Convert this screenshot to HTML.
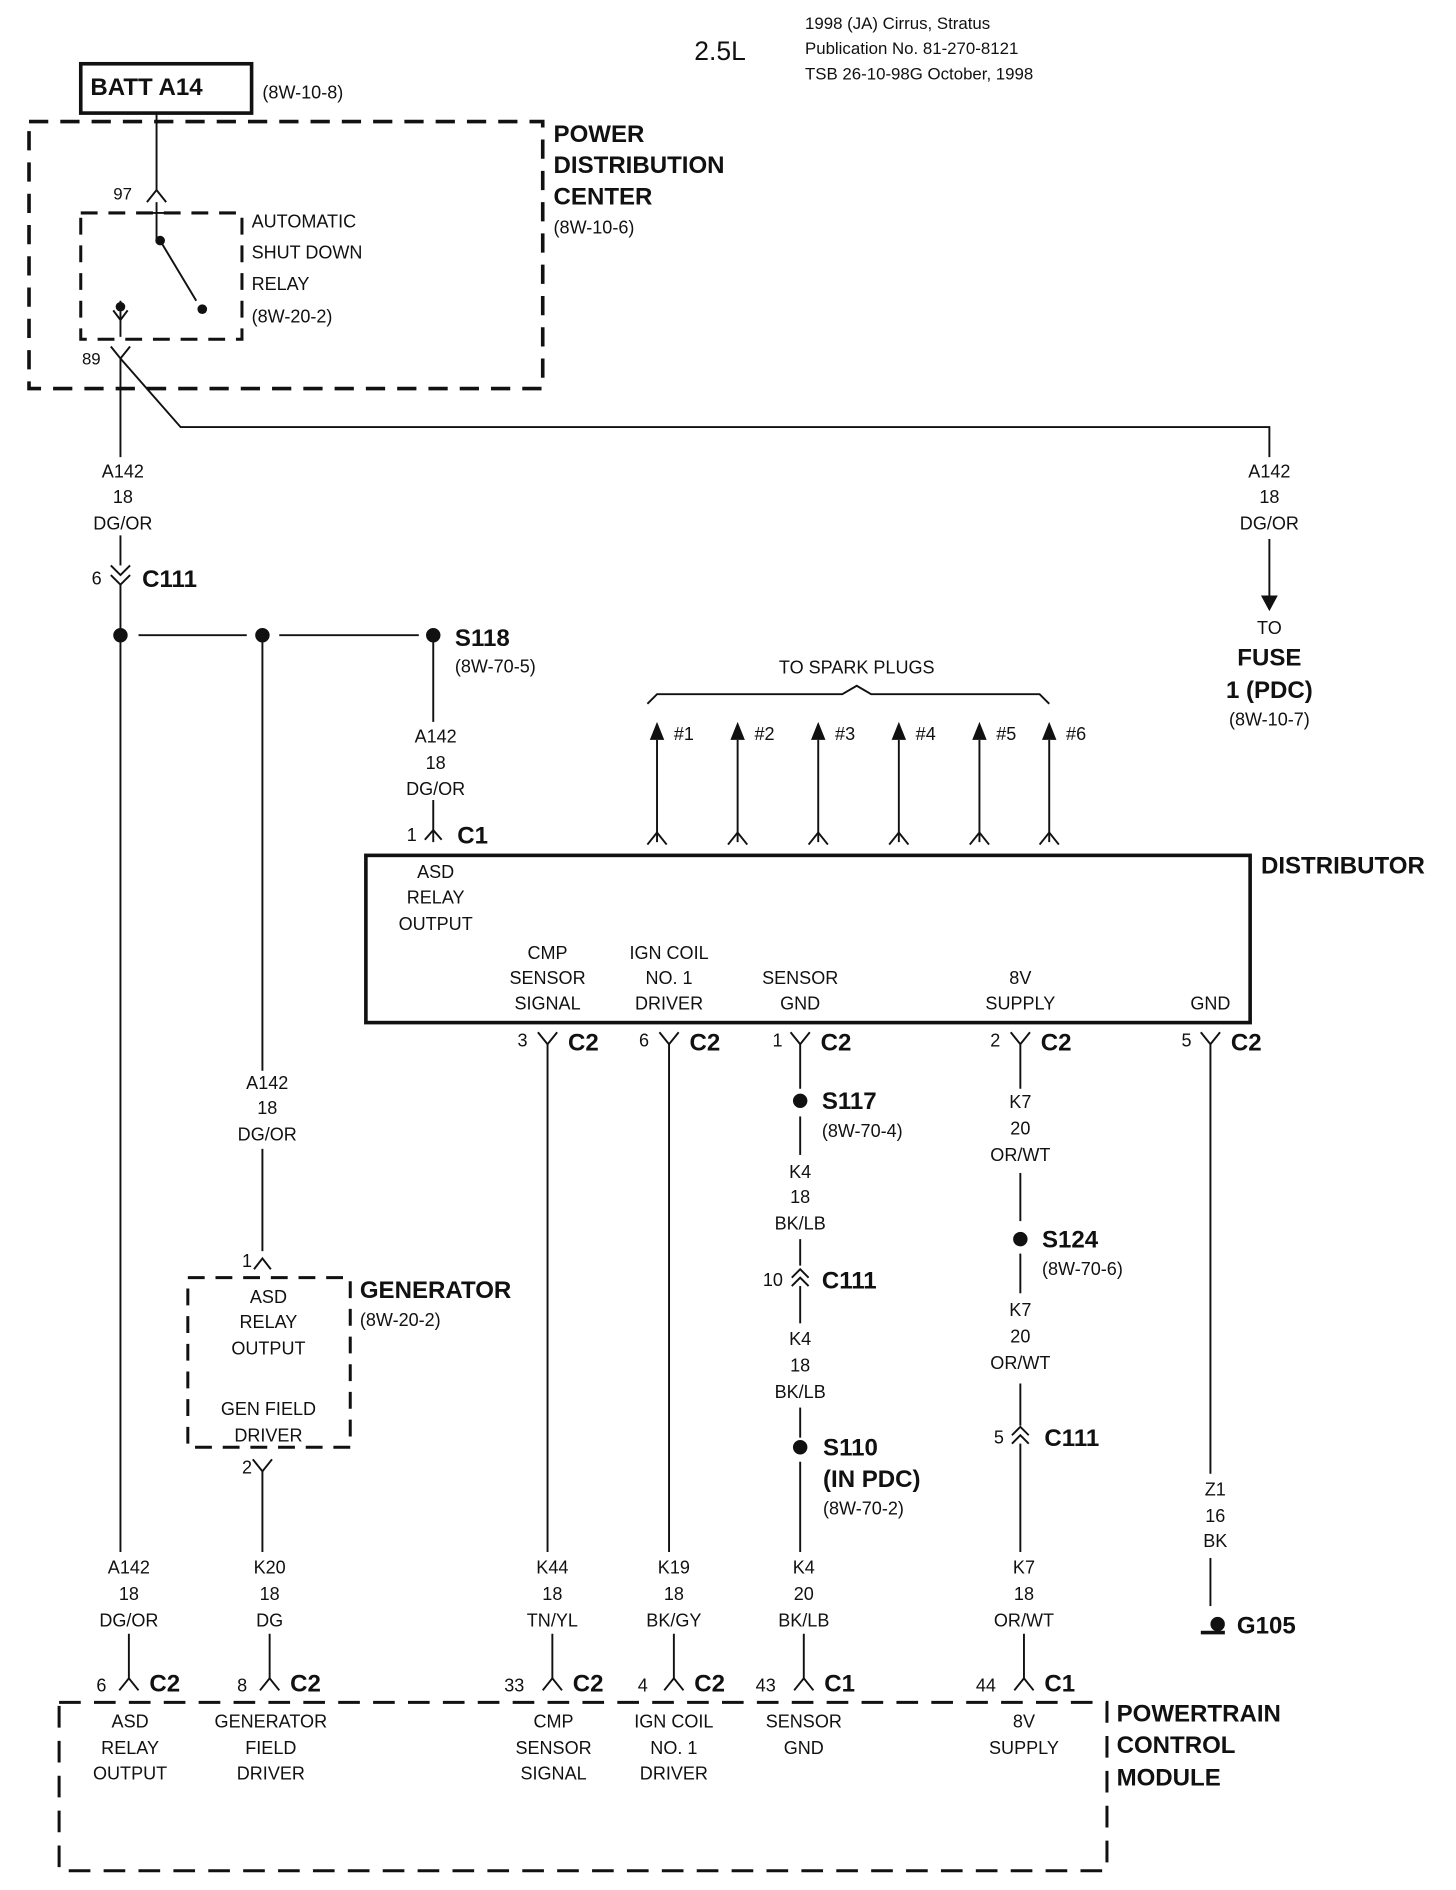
<!DOCTYPE html>
<html><head><meta charset="utf-8"><style>
html,body{margin:0;padding:0;background:#fff;}
svg{display:block;}
text{font-family:"Liberation Sans",Arial,sans-serif;fill:#111;font-size:15px;}
.b{font-weight:bold;font-size:20px;}
.c{text-anchor:middle;}
.h{font-size:14px;}
</style></head><body>
<svg width="1456" height="1890" viewBox="0 0 1210 1571" xmlns="http://www.w3.org/2000/svg">
<g stroke="#111" fill="none" stroke-width="1.6">
<rect x="67" y="53" width="142" height="41" stroke-width="3"/>
<rect x="24" y="101" width="427" height="222" stroke-width="3" stroke-dasharray="16,10"/>
<rect x="67" y="177" width="134" height="105" stroke-width="2.5" stroke-dasharray="14,9"/>
<line x1="130" y1="94" x2="130" y2="158"/>
<polyline points="122,168 130,158 138,168"/>
<line x1="130" y1="168" x2="130" y2="200"/>
<line x1="122" y1="177" x2="138" y2="177"/>
<line x1="133" y1="200" x2="163" y2="250"/>
<line x1="100" y1="250" x2="100" y2="280"/>
<polyline points="94,258 100,266 106,258"/>
<polyline points="92,288 100,298 108,288"/>
<line x1="100" y1="298" x2="100" y2="380"/>
<line x1="100" y1="445" x2="100" y2="470"/>
<polyline points="100,298 150,355 1055,355 1055,380"/>
<line x1="1055" y1="448" x2="1055" y2="495"/>
<polyline points="92,470 100,478 108,470"/>
<polyline points="92,478 100,486 108,478"/>
<line x1="100" y1="486" x2="100" y2="1290"/>
<line x1="107" y1="1358" x2="107" y2="1395"/>
<line x1="115" y1="528" x2="205" y2="528"/>
<line x1="232" y1="528" x2="348" y2="528"/>
<line x1="218" y1="528" x2="218" y2="890"/>
<line x1="218" y1="955" x2="218" y2="1040"/>
<line x1="360" y1="528" x2="360" y2="600"/>
<line x1="360" y1="665" x2="360" y2="700"/>
<polyline points="353,698 360,690 367,698"/>
<rect x="304" y="711" width="735" height="139" stroke-width="3"/>
<g>
<line x1="546" y1="615" x2="546" y2="700"/><polyline points="538,702 546,692 554,702"/>
<line x1="613" y1="615" x2="613" y2="700"/><polyline points="605,702 613,692 621,702"/>
<line x1="680" y1="615" x2="680" y2="700"/><polyline points="672,702 680,692 688,702"/>
<line x1="747" y1="615" x2="747" y2="700"/><polyline points="739,702 747,692 755,702"/>
<line x1="814" y1="615" x2="814" y2="700"/><polyline points="806,702 814,692 822,702"/>
<line x1="872" y1="615" x2="872" y2="700"/><polyline points="864,702 872,692 880,702"/>
</g>
<path d="M538,585 L546,577 L700,577 L712,570 L724,577 L864,577 L872,585"/>
<g>
<polyline points="447,858 455,868 463,858"/><line x1="455" y1="868" x2="455" y2="1290"/>
<polyline points="548,858 556,868 564,858"/><line x1="556" y1="868" x2="556" y2="1290"/>
<polyline points="657,858 665,868 673,858"/><line x1="665" y1="868" x2="665" y2="905"/>
<polyline points="840,858 848,868 856,858"/><line x1="848" y1="868" x2="848" y2="905"/>
<polyline points="998,858 1006,868 1014,858"/><line x1="1006" y1="868" x2="1006" y2="1225"/>
</g>
<line x1="665" y1="928" x2="665" y2="960"/>
<line x1="665" y1="1030" x2="665" y2="1052"/>
<polyline points="658,1062 665,1055 672,1062"/><polyline points="658,1069 665,1062 672,1069"/>
<line x1="665" y1="1069" x2="665" y2="1100"/>
<line x1="665" y1="1170" x2="665" y2="1195"/>
<line x1="665" y1="1215" x2="665" y2="1290"/>
<line x1="668" y1="1358" x2="668" y2="1395"/>
<line x1="848" y1="975" x2="848" y2="1015"/>
<line x1="848" y1="1042" x2="848" y2="1075"/>
<line x1="848" y1="1150" x2="848" y2="1185"/>
<polyline points="841,1193 848,1186 855,1193"/><polyline points="841,1200 848,1193 855,1200"/>
<line x1="848" y1="1200" x2="848" y2="1290"/>
<line x1="851" y1="1358" x2="851" y2="1395"/>
<line x1="1006" y1="1295" x2="1006" y2="1335"/>
<line x1="998" y1="1357" x2="1018" y2="1357" stroke-width="3"/>
<rect x="156" y="1062" width="135" height="141" stroke-width="2.5" stroke-dasharray="14,9"/>
<polyline points="211,1055 218,1046 225,1055"/>
<polyline points="210,1213 218,1223 226,1213"/>
<line x1="218" y1="1223" x2="218" y2="1290"/>
<line x1="224" y1="1358" x2="224" y2="1395"/>
<g>
<polyline points="99,1405 107,1395 115,1405"/>
<polyline points="216,1405 224,1395 232,1405"/>
<polyline points="451,1405 459,1395 467,1405"/><line x1="459" y1="1395" x2="459" y2="1358"/>
<polyline points="552,1405 560,1395 568,1405"/><line x1="560" y1="1395" x2="560" y2="1358"/>
<polyline points="660,1405 668,1395 676,1405"/>
<polyline points="843,1405 851,1395 859,1405"/>
</g>
<rect x="49" y="1415" width="871" height="140" stroke-width="2.5" stroke-dasharray="18,11"/>
</g>
<g fill="#111">
<circle cx="133" cy="200" r="4"/><circle cx="168" cy="257" r="4"/><circle cx="100" cy="255" r="4"/>
<circle cx="100" cy="528" r="6"/><circle cx="218" cy="528" r="6"/><circle cx="360" cy="528" r="6"/>
<circle cx="665" cy="915" r="6"/><circle cx="665" cy="1203" r="6"/><circle cx="848" cy="1030" r="6"/>
<circle cx="1012" cy="1350" r="6"/>
<polygon points="1048,495 1062,495 1055,508"/>
<polygon points="540,615 546,600 552,615"/><polygon points="607,615 613,600 619,615"/>
<polygon points="674,615 680,600 686,615"/><polygon points="741,615 747,600 753,615"/>
<polygon points="808,615 814,600 820,615"/><polygon points="866,615 872,600 878,615"/>
</g>
<text x="577" y="50" style="font-size:22px">2.5L</text>
<text x="669" y="24" class="h">1998 (JA) Cirrus, Stratus</text>
<text x="669" y="45" class="h">Publication No. 81-270-8121</text>
<text x="669" y="66" class="h">TSB 26-10-98G   October, 1998</text>
<text x="75" y="79" class="b">BATT A14</text>
<text x="218" y="82">(8W-10-8)</text>
<text x="460" y="118" class="b">POWER</text>
<text x="460" y="144" class="b">DISTRIBUTION</text>
<text x="460" y="170" class="b">CENTER</text>
<text x="460" y="194">(8W-10-6)</text>
<text x="209" y="189">AUTOMATIC</text>
<text x="209" y="215">SHUT DOWN</text>
<text x="209" y="241">RELAY</text>
<text x="209" y="268">(8W-20-2)</text>
<text x="94" y="166" class="h">97</text>
<text x="68" y="303" class="h">89</text>
<text x="102" y="397" class="c">A142</text><text x="102" y="418" class="c">18</text><text x="102" y="440" class="c">DG/OR</text>
<text x="1055" y="397" class="c">A142</text><text x="1055" y="418" class="c">18</text><text x="1055" y="440" class="c">DG/OR</text>
<text x="1055" y="527" class="c">TO</text>
<text x="1055" y="553" class="b c">FUSE</text>
<text x="1055" y="580" class="b c">1 (PDC)</text>
<text x="1055" y="603" class="c">(8W-10-7)</text>
<text x="362" y="617" class="c">A142</text><text x="362" y="639" class="c">18</text><text x="362" y="661" class="c">DG/OR</text>
<text x="222" y="905" class="c">A142</text><text x="222" y="926" class="c">18</text><text x="222" y="948" class="c">DG/OR</text>
<text x="76" y="486">6</text><text x="118" y="488" class="b">C111</text>
<text x="378" y="537" class="b">S118</text><text x="378" y="559">(8W-70-5)</text>
<text x="712" y="560" class="c">TO SPARK PLUGS</text>
<text x="560" y="615">#1</text><text x="627" y="615">#2</text><text x="694" y="615">#3</text>
<text x="761" y="615">#4</text><text x="828" y="615">#5</text><text x="886" y="615">#6</text>
<text x="338" y="699">1</text><text x="380" y="701" class="b">C1</text>
<text x="1048" y="726" class="b">DISTRIBUTOR</text>
<text x="362" y="730" class="c">ASD</text><text x="362" y="751" class="c">RELAY</text><text x="362" y="773" class="c">OUTPUT</text>
<text x="455" y="797" class="c">CMP</text><text x="455" y="818" class="c">SENSOR</text><text x="455" y="839" class="c">SIGNAL</text>
<text x="556" y="797" class="c">IGN COIL</text><text x="556" y="818" class="c">NO. 1</text><text x="556" y="839" class="c">DRIVER</text>
<text x="665" y="818" class="c">SENSOR</text><text x="665" y="839" class="c">GND</text>
<text x="848" y="818" class="c">8V</text><text x="848" y="839" class="c">SUPPLY</text>
<text x="1006" y="839" class="c">GND</text>
<text x="430" y="870">3</text><text x="472" y="873" class="b">C2</text>
<text x="531" y="870">6</text><text x="573" y="873" class="b">C2</text>
<text x="642" y="870">1</text><text x="682" y="873" class="b">C2</text>
<text x="823" y="870">2</text><text x="865" y="873" class="b">C2</text>
<text x="982" y="870">5</text><text x="1023" y="873" class="b">C2</text>
<text x="683" y="922" class="b">S117</text><text x="683" y="945">(8W-70-4)</text>
<text x="665" y="979" class="c">K4</text><text x="665" y="1000" class="c">18</text><text x="665" y="1022" class="c">BK/LB</text>
<text x="634" y="1069">10</text><text x="683" y="1071" class="b">C111</text>
<text x="665" y="1118" class="c">K4</text><text x="665" y="1140" class="c">18</text><text x="665" y="1162" class="c">BK/LB</text>
<text x="684" y="1210" class="b">S110</text><text x="684" y="1236" class="b">(IN PDC)</text><text x="684" y="1259">(8W-70-2)</text>
<text x="848" y="921" class="c">K7</text><text x="848" y="943" class="c">20</text><text x="848" y="965" class="c">OR/WT</text>
<text x="866" y="1037" class="b">S124</text><text x="866" y="1060">(8W-70-6)</text>
<text x="848" y="1094" class="c">K7</text><text x="848" y="1116" class="c">20</text><text x="848" y="1138" class="c">OR/WT</text>
<text x="826" y="1200">5</text><text x="868" y="1202" class="b">C111</text>
<text x="1010" y="1243" class="c">Z1</text><text x="1010" y="1265" class="c">16</text><text x="1010" y="1286" class="c">BK</text>
<text x="1028" y="1358" class="b">G105</text>
<text x="201" y="1053">1</text><text x="201" y="1225">2</text>
<text x="299" y="1079" class="b">GENERATOR</text><text x="299" y="1102">(8W-20-2)</text>
<text x="223" y="1083" class="c">ASD</text><text x="223" y="1104" class="c">RELAY</text><text x="223" y="1126" class="c">OUTPUT</text>
<text x="223" y="1176" class="c">GEN FIELD</text><text x="223" y="1198" class="c">DRIVER</text>
<text x="107" y="1308" class="c">A142</text><text x="107" y="1330" class="c">18</text><text x="107" y="1352" class="c">DG/OR</text>
<text x="224" y="1308" class="c">K20</text><text x="224" y="1330" class="c">18</text><text x="224" y="1352" class="c">DG</text>
<text x="459" y="1308" class="c">K44</text><text x="459" y="1330" class="c">18</text><text x="459" y="1352" class="c">TN/YL</text>
<text x="560" y="1308" class="c">K19</text><text x="560" y="1330" class="c">18</text><text x="560" y="1352" class="c">BK/GY</text>
<text x="668" y="1308" class="c">K4</text><text x="668" y="1330" class="c">20</text><text x="668" y="1352" class="c">BK/LB</text>
<text x="851" y="1308" class="c">K7</text><text x="851" y="1330" class="c">18</text><text x="851" y="1352" class="c">OR/WT</text>
<text x="80" y="1406">6</text><text x="124" y="1406" class="b">C2</text>
<text x="197" y="1406">8</text><text x="241" y="1406" class="b">C2</text>
<text x="419" y="1406">33</text><text x="476" y="1406" class="b">C2</text>
<text x="530" y="1406">4</text><text x="577" y="1406" class="b">C2</text>
<text x="628" y="1406">43</text><text x="685" y="1406" class="b">C1</text>
<text x="811" y="1406">44</text><text x="868" y="1406" class="b">C1</text>
<text x="928" y="1431" class="b">POWERTRAIN</text><text x="928" y="1457" class="b">CONTROL</text><text x="928" y="1484" class="b">MODULE</text>
<text x="108" y="1436" class="c">ASD</text><text x="108" y="1458" class="c">RELAY</text><text x="108" y="1479" class="c">OUTPUT</text>
<text x="225" y="1436" class="c">GENERATOR</text><text x="225" y="1458" class="c">FIELD</text><text x="225" y="1479" class="c">DRIVER</text>
<text x="460" y="1436" class="c">CMP</text><text x="460" y="1458" class="c">SENSOR</text><text x="460" y="1479" class="c">SIGNAL</text>
<text x="560" y="1436" class="c">IGN COIL</text><text x="560" y="1458" class="c">NO. 1</text><text x="560" y="1479" class="c">DRIVER</text>
<text x="668" y="1436" class="c">SENSOR</text><text x="668" y="1458" class="c">GND</text>
<text x="851" y="1436" class="c">8V</text><text x="851" y="1458" class="c">SUPPLY</text>
</svg>
</body></html>
